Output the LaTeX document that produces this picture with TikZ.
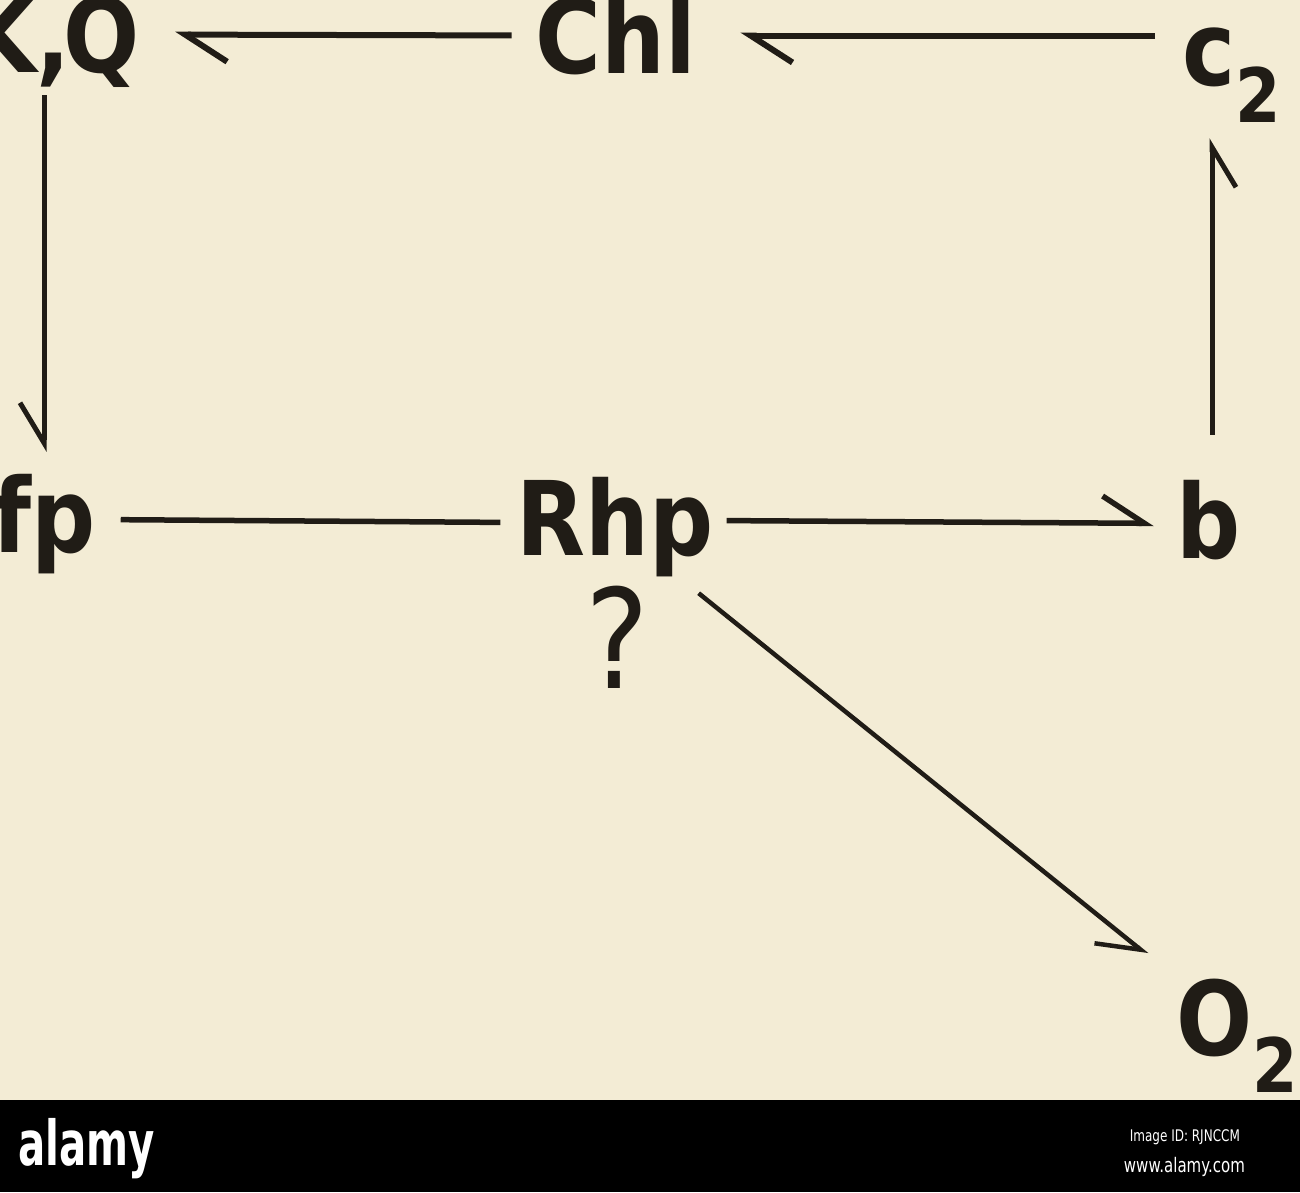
\documentclass[tikz,border=0pt]{standalone}
\usepackage{fontspec}
\setmainfont{DejaVu Sans}
\usepackage{xcolor}
\usetikzlibrary{arrows.meta}
\definecolor{paper}{RGB}{243,236,213}
\definecolor{ink}{RGB}{32,28,22}
\newcommand{\chemsub}[2]{#1\raisebox{-37pt}{\fontsize{75}{75}\selectfont #2}} % Takes species letter, subscript

\begin{document}
\begin{tikzpicture}[x=1pt, y=-1pt,
    species/.style={inner sep=0pt, xscale=0.87, text height=75pt, text depth=0pt, text=ink, font=\bfseries\fontsize{103}{103}\selectfont},
    lbarb/.style={draw=ink, line width=6pt, -{Straight Barb[left, length=42pt, width=54pt]}},
    rbarb/.style={draw=ink, line width=5pt, -{Straight Barb[right, length=40pt, width=48pt]}}]
            % Paper
            \useasboundingbox[fill=paper] (0,0) rectangle (1300,1192);

            % Species
            \node[species, anchor=base east] (KQ) at (140,72) {K,\kern-8pt Q};
            \node[species, anchor=base] (Chl) at (616,73) {Chl};
            \node[species, anchor=base west] (c2) at (1182,85) {\chemsub{c}{2}};
            \node[species, anchor=base] (fp) at (44,552) {fp};
            \node[species, anchor=base] (Rhp) at (615,555) {Rhp};
            \node[species, anchor=base] (b) at (1209,558) {b};
            \node[species, anchor=base west] (O2) at (1176,1055) {\chemsub{O}{2}};
            \node[species, text height=, font=\fontsize{138}{138}\selectfont, anchor=base] (unk) at (617,688) {?};

            % Upper chain
            \draw[lbarb, shorten <=24pt, shorten >=35pt] (Chl.west) -- (KQ.east);
            \draw[lbarb, shorten <=27pt, shorten >=44pt] (c2.west |- Chl.east) -- (Chl.east);

            % Sides
            \draw[rbarb, shorten <=23pt, shorten >=25pt] (fp.north |- KQ.south) -- (fp.north);
            \draw[rbarb, shorten <=48pt, shorten >=53pt] ([xshift=3pt]b.north) -- ([xshift=3pt]b.north |- c2.south);

            % Lower chain
            \draw[draw=ink, line width=5.5pt, shorten <=25pt, shorten >=16pt] ([yshift=-5pt]fp.east) -- ([yshift=-5pt]Rhp.west);
            \draw[lbarb, line width=5.5pt, shorten <=13pt, shorten >=23pt] ([yshift=-3pt]Rhp.east) -- ([yshift=-3pt]b.west);
            \draw[rbarb, line width=4.5pt] ([xshift=-15pt, yshift=-38pt]Rhp.south east) -- ([xshift=-29pt, yshift=25pt]O2.north west);

            % Footer band
            \fill[black] (0,1100) rectangle (1300,1192);
            \node[white, inner sep=0pt, xscale=0.65, font=\bfseries\fontsize{62}{62}\selectfont, anchor=base west] (brand) at (18,1165) {alamy};
            \node[white, inner sep=0pt, xscale=0.75, font=\fontsize{16}{16}\selectfont, anchor=base east] (imgid) at (1240,1141) {Image ID: RJNCCM};
            \node[white, inner sep=0pt, xscale=0.75, font=\fontsize{20}{20}\selectfont, anchor=base east] (site) at (1245,1172) {www.alamy.com};
\end{tikzpicture}
\end{document}
